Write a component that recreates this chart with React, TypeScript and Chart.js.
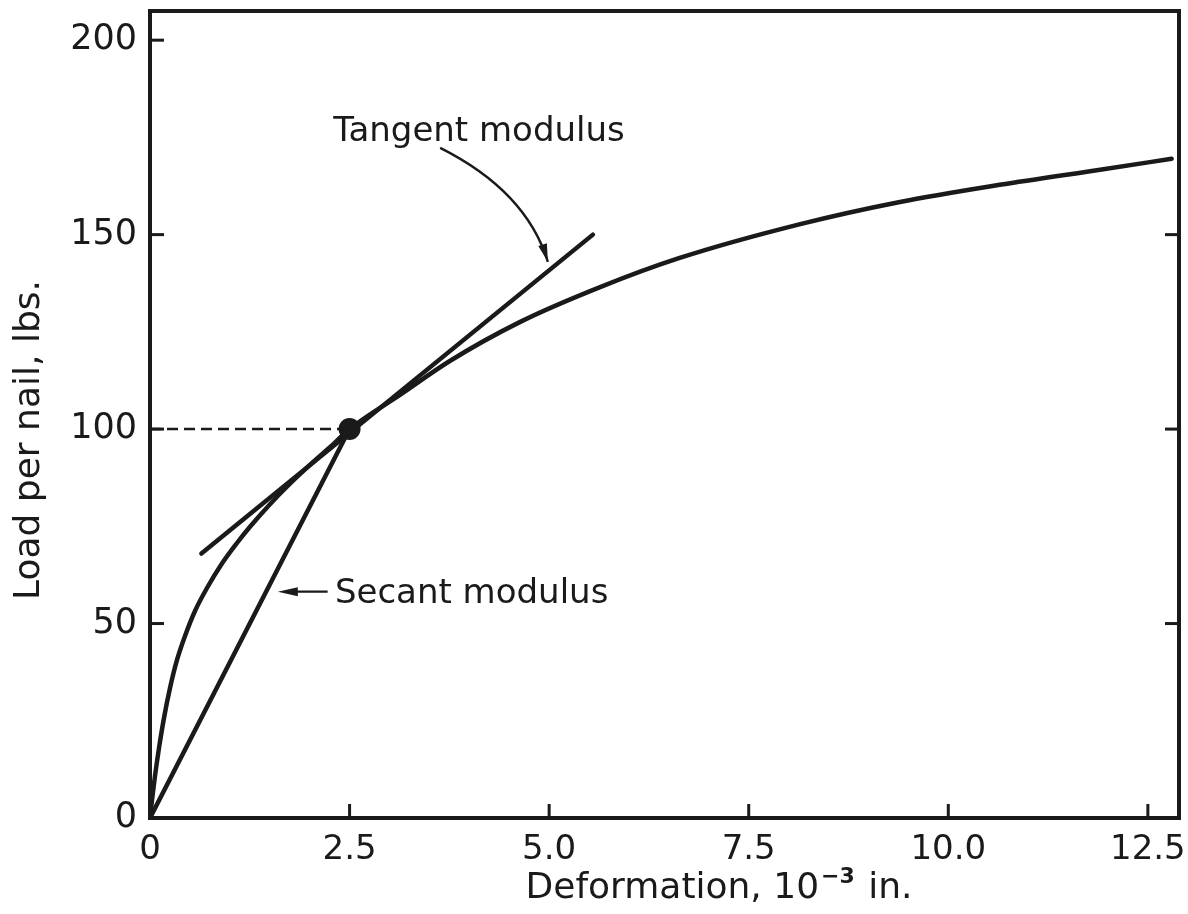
import React, { useEffect, useRef } from "react";
import { Chart, registerables } from "chart.js";

Chart.register(...registerables);

// Load–deformation curve (x: deformation 10^-3 in., y: load per nail lbs.)
const curveX = [0, 0.025, 0.0624, 0.1128, 0.1752, 0.2507, 0.3383, 0.4384, 0.5636, 0.7139, 0.8893, 1.0897, 1.2525, 1.503, 1.7535, 2.004, 2.2545, 2.5, 3.1314, 3.7557, 4.6317, 5.6386, 6.6354, 8.1457, 9.3943, 10.6428, 11.9014, 12.7975];
const curveY = [0, 4.63, 10.8, 18.0, 25.71, 33.43, 40.63, 46.8, 53.23, 59.14, 65.06, 70.71, 74.88, 80.69, 85.96, 90.79, 95.32, 100, 108.8, 117.5, 127.5, 136.5, 144.0, 152.7, 158.4, 162.8, 166.7, 169.5];

// Tangent modulus line
const tangentX = [0.644, 5.548];
const tangentY = [68, 150];

// Secant modulus line (origin to the marked point)
const secantX = [0, 2.5];
const secantY = [0, 100];

// Dashed reference at 100 lbs
const dashX = [0, 2.5];
const dashY = [100, 100];

// Marked point
const pointX = [2.5];
const pointY = [100];

// Axis ticks
const xTickValues = [0, 2.5, 5, 7.5, 10, 12.5];
const xTickLabels = ["0", "2.5", "5.0", "7.5", "10.0", "12.5"];
const yTickValues = [0, 50, 100, 150, 200];
const yTickLabels = ["0", "50", "100", "150", "200"];
const rightTickValues = [50, 100, 150];

const xMin = 0;
const xMax = 12.89;
const yMin = 0;
const yMax = 207.5;

const INK = "#1a1a1a";
const FONT = "'DejaVu Sans', sans-serif";

// Annotations (in data units)
const tangentLabel = { text: "Tangent modulus", x: 2.296, y: 174.1 };
const tangentArrow = { x0: 3.635, y0: 172.3, cx: 4.712, cy: 161.2, x1: 4.984, y1: 143.0 };
const secantLabel = { text: "Secant modulus", x: 2.316, y: 55.3 };
const secantArrow = { x0: 2.225, y0: 58.2, x1: 1.601, y1: 58.2 };

const toPts = (xs: number[], ys: number[]) => xs.map((x, i) => ({ x, y: ys[i] }));

const zeroPad = (s: any) => {
  s.paddingTop = 0;
  s.paddingBottom = 0;
  s.paddingLeft = 0;
  s.paddingRight = 0;
};

const framePlugin = {
  id: "framePlugin",
  afterDatasetsDraw(chart: any) {
    const { ctx, chartArea: a, scales } = chart;
    const xs = scales.x;
    const ys = scales.y;
    ctx.save();
    ctx.strokeStyle = INK;
    ctx.fillStyle = INK;
    ctx.lineCap = "butt";

    // frame
    ctx.lineWidth = 4;
    ctx.strokeRect(a.left, a.top, a.right - a.left, a.bottom - a.top);

    // inward ticks
    ctx.lineWidth = 3;
    const tl = 14;
    yTickValues.forEach((v) => {
      if (v === 0) return;
      const py = ys.getPixelForValue(v);
      ctx.beginPath();
      ctx.moveTo(a.left, py);
      ctx.lineTo(a.left + tl, py);
      ctx.stroke();
    });
    rightTickValues.forEach((v) => {
      const py = ys.getPixelForValue(v);
      ctx.beginPath();
      ctx.moveTo(a.right, py);
      ctx.lineTo(a.right - tl, py);
      ctx.stroke();
    });
    xTickValues.forEach((v) => {
      if (v === 0) return;
      const px = xs.getPixelForValue(v);
      ctx.beginPath();
      ctx.moveTo(px, a.bottom);
      ctx.lineTo(px, a.bottom - tl);
      ctx.stroke();
    });

    // annotation texts
    ctx.font = `34px ${FONT}`;
    ctx.textAlign = "left";
    ctx.textBaseline = "alphabetic";
    ctx.fillText(tangentLabel.text, xs.getPixelForValue(tangentLabel.x), ys.getPixelForValue(tangentLabel.y));
    ctx.fillText(secantLabel.text, xs.getPixelForValue(secantLabel.x), ys.getPixelForValue(secantLabel.y));

    const drawHead = (tx: number, ty: number, dx: number, dy: number, len: number, half: number) => {
      const d = Math.hypot(dx, dy);
      const ux = dx / d;
      const uy = dy / d;
      const bx = tx - ux * len;
      const by = ty - uy * len;
      ctx.beginPath();
      ctx.moveTo(tx, ty);
      ctx.lineTo(bx - uy * half, by + ux * half);
      ctx.lineTo(bx + uy * half, by - ux * half);
      ctx.closePath();
      ctx.fill();
    };

    // tangent arrow (curved)
    const p0x = xs.getPixelForValue(tangentArrow.x0);
    const p0y = ys.getPixelForValue(tangentArrow.y0);
    const pcx = xs.getPixelForValue(tangentArrow.cx);
    const pcy = ys.getPixelForValue(tangentArrow.cy);
    const p1x = xs.getPixelForValue(tangentArrow.x1);
    const p1y = ys.getPixelForValue(tangentArrow.y1);
    ctx.lineWidth = 2.4;
    ctx.beginPath();
    ctx.moveTo(p0x, p0y);
    ctx.quadraticCurveTo(pcx, pcy, p1x, p1y);
    ctx.stroke();
    drawHead(p1x, p1y, p1x - pcx, p1y - pcy, 18, 4.5);

    // secant arrow (straight)
    const s0x = xs.getPixelForValue(secantArrow.x0);
    const s0y = ys.getPixelForValue(secantArrow.y0);
    const s1x = xs.getPixelForValue(secantArrow.x1);
    const s1y = ys.getPixelForValue(secantArrow.y1);
    ctx.lineWidth = 2.4;
    ctx.beginPath();
    ctx.moveTo(s0x, s0y);
    ctx.lineTo(s1x + 10, s1y);
    ctx.stroke();
    drawHead(s1x, s1y, s1x - s0x, s1y - s0y, 20, 4.5);

    // y axis title
    ctx.save();
    ctx.translate(30, 440);
    ctx.rotate(-Math.PI / 2);
    ctx.textAlign = "center";
    ctx.textBaseline = "middle";
    ctx.font = `36px ${FONT}`;
    ctx.fillText("Load per nail, lbs.", 0, 0);
    ctx.restore();

    // x axis title with superscript
    const mainFont = `36px ${FONT}`;
    const supFont = `bold 22px ${FONT}`;
    const partA = "Deformation, 10";
    const sup = "\u22123";
    const partB = " in.";
    ctx.font = mainFont;
    const wA = ctx.measureText(partA).width;
    const wB = ctx.measureText(partB).width;
    ctx.font = supFont;
    const wS = ctx.measureText(sup).width + 2;
    const total = wA + wS + wB;
    const cx = 718;
    const baseY = 898;
    let x = cx - total / 2;
    ctx.textAlign = "left";
    ctx.textBaseline = "alphabetic";
    ctx.font = mainFont;
    ctx.fillText(partA, x, baseY);
    x += wA + 2;
    ctx.font = supFont;
    ctx.fillText(sup, x, baseY - 15);
    x += wS;
    ctx.font = mainFont;
    ctx.fillText(partB, x, baseY);

    ctx.restore();
  },
};

export default function App() {
  const canvasRef = useRef<HTMLCanvasElement | null>(null);

  useEffect(() => {
    if (!canvasRef.current) return;
    const chart = new Chart(canvasRef.current, {
      type: "scatter",
      data: {
        datasets: [
          {
            data: toPts(curveX, curveY),
            showLine: true,
            borderColor: INK,
            borderWidth: 4.5,
            pointRadius: 0,
            cubicInterpolationMode: "monotone",
            borderCapStyle: "round",
          } as any,
          {
            data: toPts(tangentX, tangentY),
            showLine: true,
            borderColor: INK,
            borderWidth: 4.5,
            pointRadius: 0,
            borderCapStyle: "round",
          } as any,
          {
            data: toPts(secantX, secantY),
            showLine: true,
            borderColor: INK,
            borderWidth: 4.5,
            pointRadius: 0,
            borderCapStyle: "round",
          } as any,
          {
            data: toPts(dashX, dashY),
            showLine: true,
            borderColor: INK,
            borderWidth: 2.5,
            borderDash: [11, 6],
            pointRadius: 0,
          } as any,
          {
            data: toPts(pointX, pointY),
            showLine: false,
            pointRadius: 11,
            pointBackgroundColor: INK,
            pointBorderColor: INK,
            pointBorderWidth: 0,
          } as any,
        ],
      },
      options: {
        animation: false,
        responsive: true,
        maintainAspectRatio: false,
        events: [],
        layout: {
          autoPadding: false,
          padding: { left: 0, right: 9, top: 11, bottom: 0 },
        } as any,
        plugins: {
          legend: { display: false },
          tooltip: { enabled: false },
          title: { display: false },
        },
        scales: {
          x: {
            type: "linear",
            min: xMin,
            max: xMax,
            grid: { display: false, drawTicks: false },
            border: { display: false },
            afterFit: (s: any) => {
              s.height = 96;
              zeroPad(s);
            },
            afterBuildTicks: (s: any) => {
              s.ticks = xTickValues.map((v) => ({ value: v }));
            },
            ticks: {
              autoSkip: false,
              maxRotation: 0,
              minRotation: 0,
              padding: 12,
              color: INK,
              font: { family: FONT, size: 34 },
              callback: (v: any) => {
                const i = xTickValues.indexOf(Number(v));
                return i >= 0 ? xTickLabels[i] : "";
              },
            },
          },
          y: {
            type: "linear",
            min: yMin,
            max: yMax,
            grid: { display: false, drawTicks: false },
            border: { display: false },
            afterFit: (s: any) => {
              s.width = 150;
              zeroPad(s);
            },
            afterBuildTicks: (s: any) => {
              s.ticks = yTickValues.map((v) => ({ value: v }));
            },
            ticks: {
              autoSkip: false,
              padding: 13,
              color: INK,
              font: { family: FONT, size: 35 },
              callback: (v: any) => {
                const i = yTickValues.indexOf(Number(v));
                return i >= 0 ? yTickLabels[i] : "";
              },
            },
          },
        },
      },
      plugins: [framePlugin],
    });
    return () => chart.destroy();
  }, []);

  return (
    <div
      style={{
        position: "fixed",
        left: 0,
        top: 0,
        width: 1188,
        height: 914,
        background: "#ffffff",
      }}
    >
      <canvas ref={canvasRef} />
    </div>
  );
}
